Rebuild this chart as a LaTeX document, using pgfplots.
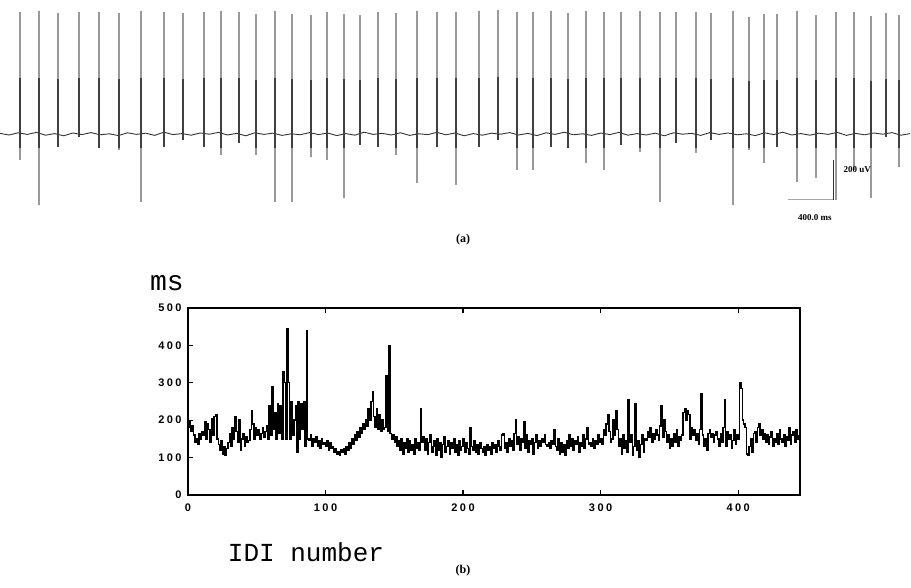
\documentclass[border=0pt]{standalone}
\usepackage{pgfplots}
\pgfplotsset{compat=1.18}
\usepackage{pgfplotstable}
\usepackage{fontspec}
\setmainfont{Liberation Serif}
\newfontfamily\tickfont[LetterSpace=22]{Liberation Sans}
\newfontfamily\monofont{Liberation Mono}

% spike train: time (ms), peak up / down (uV), dark core of each spike
\pgfplotstableread{
t    up   down  mid  lo
107  610  -130  280  -70
276  615  -355  280  -70
445  605  -65   275  -65
632  610  -15   280  -15
810  610  -70   280  -70
988  605  -80   275  -70
1184 615  -340  280  -70
1388 610  -65   280  -65
1558 605  -30   275  -30
1744 610  -65   280  -65
1896 615  -105  280  -70
2056 610  -45   280  -45
2207 600  -105  270  -70
2376 615  -340  280  -70
2528 600  -340  275  -70
2697 595  -115  270  -70
2839 610  -130  280  -70
2990 600  -320  275  -70
3133 595  -55   270  -55
3293 610  -65   280  -65
3453 605  -105  275  -70
3640 615  -245  280  -70
3818 610  -65   280  -65
3987 610  -255  280  -70
4192 615  -65   280  -65
4361 620  -30   285  -30
4530 610  -180  280  -70
4673 610  -180  280  -70
4833 615  -65   280  -65
4984 605  -70   275  -70
5144 615  -145  280  -70
5304 610  -180  280  -70
5456 610  -55   280  -55
5625 615  -90   280  -70
5803 610  -340  280  -70
5945 610  -45   280  -45
6123 610  -95   280  -70
6257 605  -30   275  -30
6453 615  -355  280  -70
6595 585  -80   265  -70
6728 600  -145  270  -70
6844 600  -65   270  -65
7022 615  -240  280  -70
7191 595  -220  270  -70
7369 610  -330  280  -70
7529 610  -180  280  -70
7681 590  -320  265  -70
7814 605  -15   275  -15
7930 595  -165  270  -70
}\spikes

\begin{document}
\begin{tikzpicture}
\useasboundingbox (0pt,0pt) rectangle (911pt,588pt);

%% (a) raw recording
\begin{axis}[
  at={(0pt,358pt)}, anchor=south west,
  width=911pt, height=230pt, scale only axis,
  hide axis, clip=false,
  xmin=-71, xmax=8037, ymin=-480, ymax=670,
]
  \addplot[black!80, line width=0.9pt] table[x expr=\coordindex*81-71, y index=0, row sep=\\] {n\\ 3\\ -5\\ 6\\ -2\\ 8\\ -6\\ 2\\ -9\\ 5\\ -3\\ 7\\ -4\\ 1\\ -8\\ 6\\ -2\\ 4\\ -7\\ 9\\ -3\\ 2\\ -6\\ 5\\ -1\\ 8\\ -5\\ 3\\ -9\\ 6\\ -2\\ 4\\ -7\\ 1\\ -4\\ 7\\ -3\\ 5\\ -8\\ 2\\ -6\\ 9\\ -2\\ 3\\ -5\\ 6\\ -7\\ 1\\ -3\\ 8\\ -4\\ 5\\ -9\\ 2\\ -6\\ 4\\ -1\\ 7\\ -5\\ 3\\ -8\\ 6\\ -2\\ 9\\ -4\\ 1\\ -7\\ 5\\ -3\\ 8\\ -6\\ 2\\ -5\\ 4\\ -9\\ 6\\ -1\\ 3\\ -7\\ 7\\ -2\\ 5\\ -4\\ 1\\ -8\\ 6\\ -3\\ 9\\ -5\\ 2\\ -6\\ 4\\ -2\\ 8\\ -7\\ 3\\ -4\\ 5\\ -1\\ 7\\ -6\\ 2\\};
  \addplot[ycomb, black!40, line width=1.3pt] table[x=t, y=up] {\spikes};
  \addplot[ycomb, black!40, line width=1.3pt] table[x=t, y=down] {\spikes};
  \addplot[ycomb, black!75, line width=1.3pt] table[x=t, y=mid] {\spikes};
  \addplot[ycomb, black!75, line width=1.3pt] table[x=t, y=lo] {\spikes};
  % scale bar
  \addplot[black!35, line width=1pt] coordinates {(6942,-330) (7343,-330)};
  \addplot[black!80, line width=1pt] coordinates {(7343,-330) (7343,-130)};
  \node[anchor=west, font=\bfseries\fontsize{9}{9}\selectfont] at (axis cs:7405,-180) {200 uV};
  \node[font=\bfseries\fontsize{9}{9}\selectfont] at (axis cs:7182,-420) {400.0 ms};
\end{axis}

%% (b) inter-discharge intervals
\begin{axis}[
  at={(188pt,93pt)}, anchor=south west,
  width=612pt, height=187pt, scale only axis,
  xmin=0, xmax=445, ymin=0, ymax=500,
  axis line style={line width=1.3pt},
  tick style={line width=1.2pt, black},
  major tick length=5pt, tick align=inside,
  xtick={0,100,200,300,400}, ytick={0,100,200,300,400,500},
  xtick pos=both, xticklabel pos=lower, ytick pos=left,
  tick label style={font=\tickfont\bfseries\fontsize{11}{11}\selectfont},
  /pgf/number format/assume math mode=true,
  yticklabel style={xshift=-3pt},
  xticklabel style={yshift=-5pt},
]
  \addplot[const plot, black, line width=1.4pt] table[x expr=\coordindex, y index=0, row sep=\\] {v\\
180\\ 195\\ 170\\ 185\\ 160\\ 140\\ 150\\ 135\\ 165\\ 150\\ 170\\ 160\\ 195\\ 150\\ 190\\ 175\\ 140\\ 205\\ 160\\ 210\\
215\\ 150\\ 135\\ 120\\ 145\\ 110\\ 130\\ 105\\ 125\\ 140\\ 165\\ 130\\ 180\\ 150\\ 210\\ 170\\ 140\\ 200\\ 120\\ 150\\
165\\ 130\\ 155\\ 140\\ 145\\ 175\\ 225\\ 190\\ 150\\ 180\\ 160\\ 175\\ 150\\ 165\\ 180\\ 155\\ 170\\ 185\\ 150\\ 240\\
160\\ 290\\ 175\\ 220\\ 150\\ 245\\ 165\\ 240\\ 150\\ 330\\ 300\\ 150\\ 445\\ 300\\ 150\\ 250\\ 160\\ 200\\ 240\\ 115\\
250\\ 150\\ 245\\ 175\\ 250\\ 130\\ 440\\ 150\\ 145\\ 160\\ 130\\ 150\\ 140\\ 155\\ 130\\ 145\\ 125\\ 150\\ 135\\ 140\\
130\\ 145\\ 120\\ 140\\ 125\\ 130\\ 115\\ 125\\ 110\\ 115\\ 105\\ 120\\ 115\\ 125\\ 110\\ 130\\ 120\\ 140\\ 125\\ 150\\
135\\ 160\\ 145\\ 170\\ 155\\ 180\\ 165\\ 190\\ 175\\ 200\\ 185\\ 230\\ 200\\ 250\\ 275\\ 210\\ 180\\ 230\\ 175\\ 215\\
170\\ 200\\ 175\\ 180\\ 320\\ 170\\ 400\\ 165\\ 150\\ 160\\ 140\\ 155\\ 130\\ 145\\ 120\\ 150\\ 110\\ 140\\ 125\\ 150\\
115\\ 145\\ 120\\ 135\\ 110\\ 150\\ 125\\ 140\\ 120\\ 230\\ 140\\ 155\\ 120\\ 150\\ 110\\ 140\\ 160\\ 115\\ 130\\ 145\\
105\\ 150\\ 120\\ 140\\ 100\\ 135\\ 155\\ 115\\ 130\\ 145\\ 110\\ 140\\ 125\\ 150\\ 115\\ 135\\ 105\\ 145\\ 120\\ 130\\
150\\ 115\\ 140\\ 125\\ 110\\ 180\\ 130\\ 120\\ 145\\ 115\\ 135\\ 110\\ 140\\ 125\\ 115\\ 130\\ 105\\ 135\\ 120\\ 130\\
110\\ 140\\ 125\\ 135\\ 115\\ 145\\ 130\\ 120\\ 160\\ 165\\ 125\\ 140\\ 115\\ 150\\ 130\\ 145\\ 120\\ 165\\ 200\\ 135\\
155\\ 120\\ 150\\ 140\\ 195\\ 125\\ 160\\ 115\\ 145\\ 135\\ 150\\ 110\\ 140\\ 160\\ 125\\ 145\\ 130\\ 150\\ 140\\ 160\\
135\\ 130\\ 140\\ 125\\ 145\\ 135\\ 175\\ 130\\ 120\\ 150\\ 110\\ 140\\ 115\\ 135\\ 105\\ 145\\ 125\\ 160\\ 130\\ 150\\
120\\ 145\\ 135\\ 155\\ 115\\ 140\\ 130\\ 160\\ 125\\ 150\\ 180\\ 135\\ 140\\ 130\\ 150\\ 125\\ 145\\ 135\\ 160\\ 140\\
150\\ 135\\ 175\\ 160\\ 190\\ 215\\ 170\\ 140\\ 150\\ 200\\ 160\\ 225\\ 175\\ 130\\ 150\\ 110\\ 160\\ 125\\ 145\\ 115\\
255\\ 140\\ 160\\ 105\\ 130\\ 245\\ 120\\ 145\\ 100\\ 135\\ 160\\ 115\\ 150\\ 145\\ 170\\ 155\\ 180\\ 140\\ 165\\ 150\\
175\\ 160\\ 145\\ 185\\ 240\\ 155\\ 200\\ 170\\ 140\\ 160\\ 125\\ 150\\ 130\\ 165\\ 140\\ 175\\ 130\\ 155\\ 145\\ 160\\
220\\ 230\\ 200\\ 225\\ 215\\ 150\\ 180\\ 160\\ 175\\ 145\\ 165\\ 135\\ 175\\ 270\\ 160\\ 130\\ 150\\ 120\\ 165\\ 175\\
155\\ 165\\ 140\\ 160\\ 170\\ 150\\ 130\\ 165\\ 140\\ 180\\ 255\\ 130\\ 170\\ 150\\ 160\\ 125\\ 145\\ 175\\ 135\\ 160\\
150\\ 300\\ 285\\ 200\\ 190\\ 180\\ 110\\ 105\\ 130\\ 150\\ 115\\ 165\\ 170\\ 140\\ 180\\ 190\\ 160\\ 175\\ 150\\ 165\\
140\\ 160\\ 135\\ 155\\ 170\\ 130\\ 150\\ 140\\ 165\\ 135\\ 175\\ 150\\ 140\\ 160\\ 130\\ 155\\ 145\\ 180\\ 135\\ 160\\
170\\ 140\\ 175\\ 150\\ 160\\};
\end{axis}

\node[font=\monofont\fontsize{28}{28}\selectfont] at (167pt,305pt) {ms};
\node[font=\monofont\fontsize{26}{26}\selectfont] at (306pt,36pt) {IDI number};
\node[font=\bfseries\fontsize{12}{12}\selectfont] at (463pt,348pt) {(a)};
\node[font=\bfseries\fontsize{12}{12}\selectfont] at (463pt,17pt) {(b)};
\end{tikzpicture}
\end{document}
